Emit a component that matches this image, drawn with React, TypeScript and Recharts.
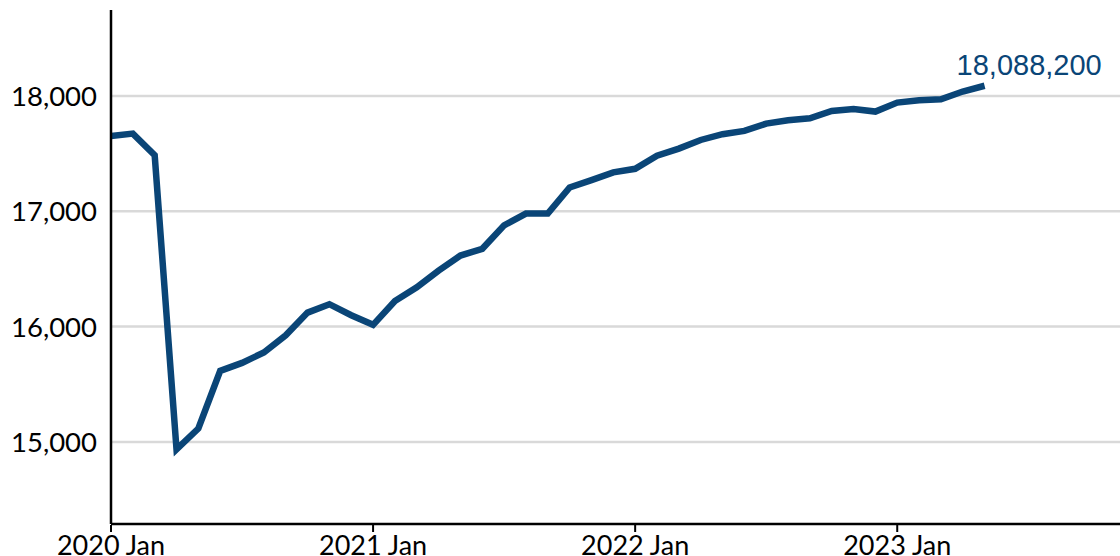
import React from 'react';
import { LineChart, Line, XAxis, YAxis, CartesianGrid } from 'recharts';

// monthly values, thousands, Jan 2020 .. May 2023
const months: string[] = [
	'2020-01', '2020-02', '2020-03', '2020-04', '2020-05', '2020-06', '2020-07', '2020-08', '2020-09', '2020-10', '2020-11', '2020-12',
	'2021-01', '2021-02', '2021-03', '2021-04', '2021-05', '2021-06', '2021-07', '2021-08', '2021-09', '2021-10', '2021-11', '2021-12',
	'2022-01', '2022-02', '2022-03', '2022-04', '2022-05', '2022-06', '2022-07', '2022-08', '2022-09', '2022-10', '2022-11', '2022-12',
	'2023-01', '2023-02', '2023-03', '2023-04', '2023-05',
];
const values: number[] = [
	17653, 17673, 17486, 14935, 15116, 15616, 15685, 15775, 15925, 16121, 16194, 16098,
	16015, 16222, 16340, 16485, 16616, 16674, 16878, 16980, 16980, 17206, 17270, 17337,
	17368, 17481, 17543, 17618, 17668, 17697, 17760, 17789, 17806, 17870, 17887, 17864,
	17942, 17962, 17971, 18038, 18088.2,
];
const xTicks: number[] = [0, 12, 24, 36];
const xTickLabels: string[] = ['2020 Jan', '2021 Jan', '2022 Jan', '2023 Jan'];
const yTicks: number[] = [15000, 16000, 17000, 18000];
const lastLabel = '18,088,200';

const data = values.map((v, i) => ({ idx: i, month: months[i], value: v }));

const navy = '#0a4577';
const tickFont = 'Lato, "Open Sans", sans-serif';

const XTick = (props: any) => {
	const { x, y, payload } = props;
	const label = xTickLabels[xTicks.indexOf(payload.value)];
	return (
		<g>
			<line x1={x} x2={x} y1={y - 7} y2={y} stroke='#000' strokeWidth={2} />
			<text x={x} y={y + 23} textAnchor='middle' fontSize={27} fontFamily={tickFont} fill='#000'>
				{label}
			</text>
		</g>
	);
};

const YTick = (props: any) => {
	const { y, payload } = props;
	return (
		<text x={97} y={y + 10} textAnchor='end' fontSize={27.5} fontFamily={tickFont} fill='#000'>
			{payload.value.toLocaleString('en-US')}
		</text>
	);
};

const EndLabel = (props: any) => {
	const { x, y, index } = props;
	if (index !== values.length - 1) return null;
	return (
		<text x={x - 28} y={y - 11} fontSize={29} fontFamily='"Liberation Sans", Arial, sans-serif' fill={navy}>
			{lastLabel}
		</text>
	);
};

export default function App() {
	return (
		<div style={{ position: 'absolute', left: 0, top: 0, background: '#fff' }}>
			<LineChart width={1120} height={556} data={data} margin={{ top: 10, right: 0, left: 0, bottom: 0 }}>
				<CartesianGrid vertical={false} horizontalValues={yTicks} stroke='#d9d9d9' strokeWidth={2.5} />
				<XAxis
					dataKey='idx'
					type='number'
					domain={[0, 46.2]}
					allowDataOverflow
					ticks={xTicks}
					height={32}
					axisLine={{ stroke: '#000', strokeWidth: 2.5 }}
					tickLine={false}
					tick={<XTick />}
					interval={0}
				/>
				<YAxis
					type='number'
					domain={[14288, 18745]}
					allowDataOverflow
					ticks={yTicks}
					width={111}
					axisLine={{ stroke: '#000', strokeWidth: 2.5 }}
					tickLine={false}
					tick={<YTick />}
					interval={0}
				/>
				<Line
					type='linear'
					dataKey='value'
					stroke={navy}
					strokeWidth={6.5}
					dot={false}
					activeDot={false}
					isAnimationActive={false}
					label={<EndLabel />}
				/>
			</LineChart>
		</div>
	);
}
